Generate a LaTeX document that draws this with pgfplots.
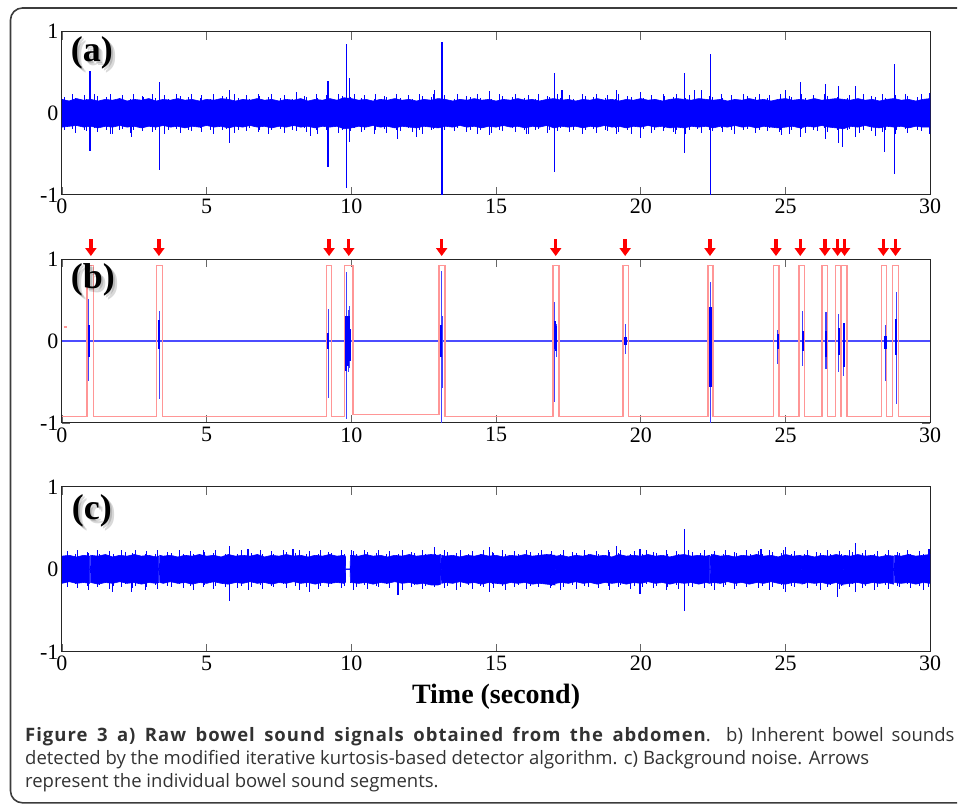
\documentclass[border=0pt]{standalone}
\usepackage{fontspec}
\setmainfont{Liberation Serif}
\newfontfamily\capfont[BoldFeatures={LetterSpace=5.5}]{Open Sans}
\usepackage{pgfplots}
\usepackage{pgfplotstable}
\pgfplotsset{compat=1.18}
\usepgfplotslibrary{fillbetween}
\usetikzlibrary{arrows.meta}

\definecolor{sigblue}{RGB}{0,0,255}
\definecolor{pulsered}{RGB}{255,150,150}
\definecolor{framegray}{RGB}{60,60,60}
\definecolor{captext}{RGB}{50,50,50}

% (a) raw signal: envelope of the noise band, read every 0.25 s
\pgfplotstableread{
t up lo
0 0.17 -0.17
0.25 0.15 -0.16
0.5 0.18 -0.15
0.75 0.16 -0.17
1 0.17 -0.16
1.25 0.15 -0.18
1.5 0.17 -0.16
1.75 0.16 -0.17
2 0.18 -0.15
2.25 0.15 -0.17
2.5 0.17 -0.16
2.75 0.16 -0.18
3 0.18 -0.16
3.25 0.15 -0.17
3.5 0.17 -0.15
3.75 0.16 -0.17
4 0.18 -0.16
4.25 0.16 -0.18
4.5 0.17 -0.16
4.75 0.15 -0.17
5 0.17 -0.15
5.25 0.16 -0.17
5.5 0.18 -0.16
5.75 0.17 -0.18
6 0.15 -0.16
6.25 0.17 -0.17
6.5 0.16 -0.15
6.75 0.18 -0.17
7 0.16 -0.16
7.25 0.17 -0.18
7.5 0.15 -0.16
7.75 0.17 -0.17
8 0.16 -0.15
8.25 0.18 -0.17
8.5 0.15 -0.16
8.75 0.17 -0.18
9 0.16 -0.16
9.25 0.18 -0.17
9.5 0.16 -0.16
9.75 0.19 -0.19
10 0.18 -0.18
10.25 0.16 -0.16
10.5 0.17 -0.17
10.75 0.15 -0.15
11 0.17 -0.17
11.25 0.16 -0.16
11.5 0.18 -0.18
11.75 0.16 -0.16
12 0.17 -0.17
12.25 0.15 -0.18
12.5 0.17 -0.16
12.75 0.16 -0.17
13 0.18 -0.18
13.25 0.17 -0.16
13.5 0.15 -0.17
13.75 0.17 -0.15
14 0.16 -0.17
14.25 0.18 -0.16
14.5 0.16 -0.18
14.75 0.17 -0.16
15 0.15 -0.17
15.25 0.17 -0.15
15.5 0.16 -0.17
15.75 0.18 -0.16
16 0.16 -0.18
16.25 0.17 -0.16
16.5 0.15 -0.17
16.75 0.17 -0.15
17 0.18 -0.18
17.25 0.16 -0.16
17.5 0.17 -0.17
17.75 0.15 -0.16
18 0.17 -0.18
18.25 0.16 -0.16
18.5 0.18 -0.17
18.75 0.16 -0.15
19 0.17 -0.17
19.25 0.15 -0.16
19.5 0.17 -0.18
19.75 0.16 -0.16
20 0.18 -0.17
20.25 0.16 -0.15
20.5 0.17 -0.17
20.75 0.15 -0.16
21 0.17 -0.18
21.25 0.18 -0.17
21.5 0.17 -0.18
21.75 0.16 -0.16
22 0.18 -0.17
22.25 0.17 -0.16
22.5 0.16 -0.18
22.75 0.17 -0.16
23 0.15 -0.17
23.25 0.17 -0.15
23.5 0.16 -0.17
23.75 0.18 -0.16
24 0.16 -0.18
24.25 0.17 -0.16
24.5 0.15 -0.17
24.75 0.17 -0.18
25 0.18 -0.17
25.25 0.16 -0.16
25.5 0.17 -0.18
25.75 0.16 -0.16
26 0.18 -0.17
26.25 0.16 -0.15
26.5 0.17 -0.17
26.75 0.18 -0.18
27 0.17 -0.19
27.25 0.16 -0.16
27.5 0.18 -0.17
27.75 0.16 -0.15
28 0.17 -0.17
28.25 0.15 -0.18
28.5 0.17 -0.16
28.75 0.18 -0.17
29 0.16 -0.16
29.25 0.17 -0.18
29.5 0.15 -0.16
29.75 0.17 -0.17
30 0.18 -0.17
}\bandA

% (a) spikes standing out of the band
\pgfplotstableread{
t y
0.97 0.52
0.97 -0.46
3.36 0.38
3.36 -0.69
5.8 0.29
5.8 -0.37
2.4 -0.29
1.75 -0.25
8.1 0.26
8.58 -0.28
9.19 0.40
9.19 -0.66
9.83 0.85
9.83 -0.92
9.94 0.43
9.94 -0.35
11.6 -0.31
12.25 -0.29
12.88 0.29
13.13 0.87
13.13 -1.0
14.77 0.27
14.77 -0.27
16.04 -0.25
17.02 0.49
17.02 -0.72
17.28 0.29
19.15 0.29
19.15 -0.25
19.99 0.26
19.99 -0.30
21.2 -0.25
21.5 0.49
21.5 -0.49
21.85 0.29
22.1 0.28
22.4 0.73
22.4 -1.0
25.01 0.28
24.85 -0.27
25.53 0.38
25.53 -0.29
26.37 0.36
26.37 -0.31
26.82 0.34
26.82 -0.36
26.97 -0.41
27.43 0.33
27.43 -0.29
28.12 -0.28
28.43 -0.47
28.77 0.60
28.77 -0.75
29.99 0.25
29.99 -0.25
}\spikeA

% fine ragged edge of the noise bands: t ua la for (a), tc uc lc for (c)
\pgfplotstableread{
t ua la tc uc lc
0.10 0.20 -0.21 0.19 0.22 -0.22
0.36 0.23 -0.19 0.45 0.18 -0.18
0.46 0.19 -0.24 0.55 0.24 -0.23
0.78 0.22 -0.20 0.87 0.21 -0.20
0.83 0.18 -0.22 0.92 0.20 -0.25
1.13 0.24 -0.18 1.22 0.23 -0.21
1.22 0.21 -0.23 1.31 0.19 -0.19
1.55 0.20 -0.20 1.64 0.22 -0.24
1.68 0.23 -0.25 1.77 0.18 -0.20
1.97 0.19 -0.21 2.06 0.24 -0.22
2.10 0.22 -0.19 2.19 0.21 -0.18
2.36 0.18 -0.24 2.45 0.20 -0.23
2.46 0.24 -0.20 2.55 0.23 -0.20
2.78 0.21 -0.22 2.87 0.19 -0.25
2.83 0.20 -0.18 2.92 0.22 -0.21
3.13 0.23 -0.23 3.22 0.18 -0.19
3.22 0.19 -0.20 3.31 0.24 -0.24
3.55 0.22 -0.25 3.64 0.21 -0.20
3.68 0.18 -0.21 3.77 0.20 -0.22
3.97 0.24 -0.19 4.06 0.23 -0.18
4.10 0.21 -0.24 4.19 0.19 -0.23
4.36 0.20 -0.20 4.45 0.22 -0.20
4.46 0.23 -0.22 4.55 0.18 -0.25
4.78 0.19 -0.18 4.87 0.24 -0.21
4.83 0.22 -0.23 4.92 0.21 -0.19
5.13 0.18 -0.20 5.22 0.20 -0.24
5.22 0.24 -0.25 5.31 0.23 -0.20
5.55 0.21 -0.21 5.64 0.19 -0.22
5.68 0.20 -0.19 5.77 0.22 -0.18
5.97 0.23 -0.24 6.06 0.18 -0.23
6.10 0.19 -0.20 6.19 0.24 -0.20
6.36 0.22 -0.22 6.45 0.21 -0.25
6.46 0.18 -0.18 6.55 0.20 -0.21
6.78 0.24 -0.23 6.87 0.23 -0.19
6.83 0.21 -0.20 6.92 0.19 -0.24
7.13 0.20 -0.25 7.22 0.22 -0.20
7.22 0.23 -0.21 7.31 0.18 -0.22
7.55 0.19 -0.19 7.64 0.24 -0.18
7.68 0.22 -0.24 7.77 0.21 -0.23
7.97 0.18 -0.20 8.06 0.20 -0.20
8.10 0.24 -0.22 8.19 0.23 -0.25
8.36 0.21 -0.18 8.45 0.19 -0.21
8.46 0.20 -0.23 8.55 0.22 -0.19
8.78 0.23 -0.20 8.87 0.18 -0.24
8.83 0.19 -0.25 8.92 0.24 -0.20
9.13 0.22 -0.21 9.22 0.21 -0.22
9.22 0.18 -0.19 9.31 0.20 -0.18
9.55 0.24 -0.24 9.64 0.23 -0.23
9.68 0.21 -0.20 9.77 0.19 -0.20
9.97 0.20 -0.22 10.06 0.22 -0.25
10.10 0.23 -0.18 10.19 0.18 -0.21
10.36 0.19 -0.23 10.45 0.24 -0.19
10.46 0.22 -0.20 10.55 0.21 -0.24
10.78 0.18 -0.25 10.87 0.20 -0.20
10.83 0.24 -0.21 10.92 0.23 -0.22
11.13 0.21 -0.19 11.22 0.19 -0.18
11.22 0.20 -0.24 11.31 0.22 -0.23
11.55 0.23 -0.20 11.64 0.18 -0.20
11.68 0.19 -0.22 11.77 0.24 -0.25
11.97 0.22 -0.18 12.06 0.21 -0.21
12.10 0.18 -0.23 12.19 0.20 -0.19
12.36 0.24 -0.20 12.45 0.23 -0.24
12.46 0.21 -0.25 12.55 0.19 -0.20
12.78 0.20 -0.21 12.87 0.22 -0.22
12.83 0.23 -0.19 12.92 0.18 -0.18
13.13 0.19 -0.24 13.22 0.24 -0.23
13.22 0.22 -0.20 13.31 0.21 -0.20
13.55 0.18 -0.22 13.64 0.20 -0.25
13.68 0.24 -0.18 13.77 0.23 -0.21
13.97 0.21 -0.23 14.06 0.19 -0.19
14.10 0.20 -0.20 14.19 0.22 -0.24
14.36 0.23 -0.25 14.45 0.18 -0.20
14.46 0.19 -0.21 14.55 0.24 -0.22
14.78 0.22 -0.19 14.87 0.21 -0.18
14.83 0.18 -0.24 14.92 0.20 -0.23
15.13 0.24 -0.20 15.22 0.23 -0.20
15.22 0.21 -0.22 15.31 0.19 -0.25
15.55 0.20 -0.18 15.64 0.22 -0.21
15.68 0.23 -0.23 15.77 0.18 -0.19
15.97 0.19 -0.20 16.06 0.24 -0.24
16.10 0.22 -0.25 16.19 0.21 -0.20
16.36 0.18 -0.21 16.45 0.20 -0.22
16.46 0.24 -0.19 16.55 0.23 -0.18
16.78 0.21 -0.24 16.87 0.19 -0.23
16.83 0.20 -0.20 16.92 0.22 -0.20
17.13 0.23 -0.22 17.22 0.18 -0.25
17.22 0.19 -0.18 17.31 0.24 -0.21
17.55 0.22 -0.23 17.64 0.21 -0.19
17.68 0.18 -0.20 17.77 0.20 -0.24
17.97 0.24 -0.25 18.06 0.23 -0.20
18.10 0.21 -0.21 18.19 0.19 -0.22
18.36 0.20 -0.19 18.45 0.22 -0.18
18.46 0.23 -0.24 18.55 0.18 -0.23
18.78 0.19 -0.20 18.87 0.24 -0.20
18.83 0.22 -0.22 18.92 0.21 -0.25
19.13 0.18 -0.18 19.22 0.20 -0.21
19.22 0.24 -0.23 19.31 0.23 -0.19
19.55 0.21 -0.20 19.64 0.19 -0.24
19.68 0.20 -0.25 19.77 0.22 -0.20
19.97 0.23 -0.21 20.06 0.18 -0.22
20.10 0.19 -0.19 20.19 0.24 -0.18
20.36 0.22 -0.24 20.45 0.21 -0.23
20.46 0.18 -0.20 20.55 0.20 -0.20
20.78 0.24 -0.22 20.87 0.23 -0.25
20.83 0.21 -0.18 20.92 0.19 -0.21
21.13 0.20 -0.23 21.22 0.22 -0.19
21.22 0.23 -0.20 21.31 0.18 -0.24
21.55 0.19 -0.25 21.64 0.24 -0.20
21.68 0.22 -0.21 21.77 0.21 -0.22
21.97 0.18 -0.19 22.06 0.20 -0.18
22.10 0.24 -0.24 22.19 0.23 -0.23
22.36 0.21 -0.20 22.45 0.19 -0.20
22.46 0.20 -0.22 22.55 0.22 -0.25
22.78 0.23 -0.18 22.87 0.18 -0.21
22.83 0.19 -0.23 22.92 0.24 -0.19
23.13 0.22 -0.20 23.22 0.21 -0.24
23.22 0.18 -0.25 23.31 0.20 -0.20
23.55 0.24 -0.21 23.64 0.23 -0.22
23.68 0.21 -0.19 23.77 0.19 -0.18
23.97 0.20 -0.24 24.06 0.22 -0.23
24.10 0.23 -0.20 24.19 0.18 -0.20
24.36 0.19 -0.22 24.45 0.24 -0.25
24.46 0.22 -0.18 24.55 0.21 -0.21
24.78 0.18 -0.23 24.87 0.20 -0.19
24.83 0.24 -0.20 24.92 0.23 -0.24
25.13 0.21 -0.25 25.22 0.19 -0.20
25.22 0.20 -0.21 25.31 0.22 -0.22
25.55 0.23 -0.19 25.64 0.18 -0.18
25.68 0.19 -0.24 25.77 0.24 -0.23
25.97 0.22 -0.20 26.06 0.21 -0.20
26.10 0.18 -0.22 26.19 0.20 -0.25
26.36 0.24 -0.18 26.45 0.23 -0.21
26.46 0.21 -0.23 26.55 0.19 -0.19
26.78 0.20 -0.20 26.87 0.22 -0.24
26.83 0.23 -0.25 26.92 0.18 -0.20
27.13 0.19 -0.21 27.22 0.24 -0.22
27.22 0.22 -0.19 27.31 0.21 -0.18
27.55 0.18 -0.24 27.64 0.20 -0.23
27.68 0.24 -0.20 27.77 0.23 -0.20
27.97 0.21 -0.22 28.06 0.19 -0.25
28.10 0.20 -0.18 28.19 0.22 -0.21
28.36 0.23 -0.23 28.45 0.18 -0.19
28.46 0.19 -0.20 28.55 0.24 -0.24
28.78 0.22 -0.25 28.87 0.21 -0.20
28.83 0.18 -0.21 28.92 0.20 -0.22
29.13 0.24 -0.19 29.22 0.23 -0.18
29.22 0.21 -0.24 29.31 0.19 -0.23
29.55 0.20 -0.20 29.64 0.22 -0.20
29.68 0.23 -0.22 29.77 0.18 -0.25
29.97 0.19 -0.18 29.93 0.24 -0.21
}\fuzz

% (b) detected segments: outer excursions and dense cores
\pgfplotstableread{
t y
0.93 0.51
0.93 -0.49
3.36 0.37
3.36 -0.71
9.2 0.39
9.2 -0.69
9.83 0.84
9.83 -0.95
9.89 0.38
9.89 -0.38
9.93 0.43
9.93 -0.33
13.1 0.86
13.1 -1.0
13.13 0.30
13.13 -0.57
17.03 0.47
17.03 -0.74
17.09 0.21
17.09 -0.20
19.47 0.21
19.47 -0.16
22.4 0.72
22.4 -1.0
24.73 0.14
24.73 -0.28
25.6 0.37
25.6 -0.31
26.4 0.35
26.4 -0.34
26.84 0.33
26.84 -0.38
27.0 0.21
27.0 -0.43
28.45 0.20
28.45 -0.49
28.82 0.60
28.82 -0.77
}\spikeB

\pgfplotstableread{
t y
0.93 0.20
0.93 -0.20
3.36 0.26
3.36 -0.10
9.2 0.10
9.2 -0.10
9.82 0.30
9.82 -0.37
9.86 0.25
9.86 -0.30
9.90 0.30
9.90 -0.20
9.94 0.15
9.94 -0.25
13.1 0.20
13.1 -0.20
17.04 0.25
17.04 -0.10
17.07 0.18
17.07 -0.12
19.47 0.05
19.47 -0.05
22.41 0.42
22.41 -0.56
24.73 0.08
24.73 -0.10
25.6 0.12
25.6 -0.12
26.4 0.12
26.4 -0.20
26.85 0.16
26.85 -0.17
27.02 0.22
27.02 -0.32
28.45 0.06
28.45 -0.10
28.82 0.27
28.82 -0.17
}\coreB

% (c) background noise with the segments removed
\pgfplotstableread{
t up lo
0 0.16 -0.17
0.25 0.17 -0.15
0.5 0.15 -0.17
0.75 0.17 -0.16
0.955 0.16 -0.17
0.96 0.004 -0.004
0.99 0.004 -0.004
0.995 0.17 -0.16
1.25 0.16 -0.18
1.5 0.18 -0.16
1.75 0.15 -0.17
2 0.17 -0.15
2.25 0.16 -0.17
2.5 0.18 -0.16
2.75 0.16 -0.18
3 0.17 -0.16
3.25 0.15 -0.17
3.34 0.16 -0.16
3.345 0.004 -0.004
3.375 0.004 -0.004
3.38 0.17 -0.16
3.5 0.16 -0.17
3.75 0.17 -0.15
4 0.15 -0.17
4.25 0.17 -0.16
4.5 0.16 -0.18
4.75 0.18 -0.16
5 0.16 -0.17
5.25 0.17 -0.15
5.5 0.15 -0.17
5.75 0.18 -0.18
6 0.16 -0.16
6.25 0.17 -0.17
6.5 0.16 -0.15
6.75 0.18 -0.17
7 0.15 -0.16
7.25 0.17 -0.18
7.5 0.16 -0.16
7.75 0.18 -0.17
8 0.16 -0.15
8.25 0.17 -0.17
8.5 0.15 -0.16
8.75 0.17 -0.18
9 0.16 -0.16
9.25 0.18 -0.17
9.5 0.16 -0.16
9.75 0.17 -0.17
9.795 0.16 -0.16
9.8 0.004 -0.004
9.96 0.004 -0.004
9.965 0.17 -0.16
10.25 0.16 -0.17
10.5 0.18 -0.16
10.75 0.16 -0.18
11 0.17 -0.16
11.25 0.15 -0.17
11.5 0.17 -0.15
11.75 0.16 -0.17
12 0.18 -0.16
12.25 0.16 -0.18
12.5 0.17 -0.17
12.75 0.18 -0.19
13 0.17 -0.19
13.085 0.18 -0.18
13.09 0.004 -0.004
13.115 0.004 -0.004
13.12 0.17 -0.17
13.25 0.16 -0.16
13.5 0.17 -0.17
13.75 0.15 -0.15
14 0.17 -0.17
14.25 0.16 -0.16
14.5 0.18 -0.18
14.75 0.16 -0.16
15 0.17 -0.17
15.25 0.15 -0.18
15.5 0.17 -0.16
15.75 0.16 -0.17
16 0.18 -0.16
16.25 0.16 -0.18
16.5 0.17 -0.17
16.75 0.18 -0.18
17.035 0.17 -0.19
17.04 0.004 -0.004
17.065 0.004 -0.004
17.07 0.16 -0.17
17.25 0.17 -0.16
17.5 0.15 -0.17
17.75 0.17 -0.15
18 0.16 -0.17
18.25 0.18 -0.16
18.5 0.16 -0.18
18.75 0.17 -0.16
19 0.15 -0.17
19.25 0.18 -0.16
19.5 0.16 -0.18
19.75 0.17 -0.16
20 0.16 -0.17
20.25 0.18 -0.15
20.5 0.16 -0.17
20.75 0.17 -0.16
21 0.15 -0.18
21.25 0.17 -0.16
21.5 0.18 -0.17
21.75 0.16 -0.16
22 0.17 -0.18
22.25 0.16 -0.16
22.375 0.17 -0.17
22.38 0.004 -0.004
22.405 0.004 -0.004
22.41 0.16 -0.17
22.5 0.18 -0.16
22.75 0.16 -0.17
23 0.17 -0.15
23.25 0.15 -0.17
23.5 0.17 -0.16
23.75 0.16 -0.18
24 0.18 -0.16
24.25 0.16 -0.17
24.5 0.17 -0.15
24.75 0.15 -0.17
25 0.18 -0.18
25.25 0.16 -0.16
25.535 0.17 -0.17
25.54 0.004 -0.004
25.565 0.004 -0.004
25.57 0.16 -0.18
25.75 0.17 -0.16
26 0.15 -0.17
26.25 0.17 -0.16
26.5 0.16 -0.18
26.75 0.18 -0.16
26.985 0.16 -0.19
26.99 0.004 -0.004
27.015 0.004 -0.004
27.02 0.17 -0.18
27.25 0.16 -0.17
27.5 0.18 -0.16
27.75 0.16 -0.18
28 0.17 -0.16
28.25 0.15 -0.17
28.5 0.17 -0.16
28.735 0.16 -0.18
28.74 0.004 -0.004
28.765 0.004 -0.004
28.77 0.17 -0.16
29 0.16 -0.17
29.25 0.18 -0.16
29.5 0.16 -0.18
29.75 0.17 -0.16
30 0.18 -0.17
}\bandC

\pgfplotstableread{
t y
1.75 -0.27
2.4 -0.28
5.8 0.28
5.8 -0.38
6.43 0.25
7.98 0.25
8.56 -0.28
10.0 0.24
11.61 -0.31
12.88 0.27
14.77 0.27
14.77 -0.27
19.15 0.28
19.97 0.25
19.97 -0.30
21.5 0.49
21.5 -0.50
23.23 -0.24
24.15 0.25
25.0 0.27
25.0 -0.28
26.8 -0.34
27.41 0.32
27.41 -0.28
29.96 0.25
}\spikeC

\pgfplotsset{
  panel/.style={
    scale only axis, width=869pt, anchor=south west,
    xmin=0, xmax=30, ymin=-1, ymax=1,
    xtick={0,5,10,15,20,25,30}, xticklabels={0,5,10,15,20,25,30},
    ytick={-1,0,1}, yticklabels={-1,0,1},
    tick align=inside, major tick length=8pt,
    tick style={black!60, line width=0.8pt},
    axis line style={black!85, line width=0.9pt},
    ticklabel style={font=\fontsize{22}{22}\selectfont},
    xticklabel style={yshift=-1pt},
  },
  spike/.style={ycomb, sigblue, line width=1.2pt},
  fine/.style={ycomb, sigblue, line width=0.8pt},
  edge/.style={sigblue, line width=0.6pt},
}

\newcommand{\panellabel}[3]{%
  \foreach \d in {2,4}
    \node[text=black, opacity=0.15, font=\fontsize{36}{36}\bfseries]
      at (#1+\d, #2-\d) {#3};
  \node[font=\fontsize{36}{36}\bfseries] at (#1,#2) {#3};
}

\begin{document}
\begin{tikzpicture}[x=1pt, y=1pt]
\path (0,0) rectangle (958,805);

% rounded frame round the figure and caption (right side lies outside the page)
\draw[framegray, line width=1.6pt]
  (958,797) -- (22.5,797) arc[start angle=90, end angle=180, radius=12]
  -- (10.5,13.5) arc[start angle=180, end angle=270, radius=12] -- (958,1.5);

% (a)
\begin{axis}[panel, height=163.3pt, at={(62pt,610pt)}]
\addplot[name path=au, edge] table[x=t, y=up] {\bandA};
\addplot[name path=al, edge] table[x=t, y=lo] {\bandA};
\addplot[sigblue] fill between[of=au and al];
\addplot[fine] table[x=t, y=ua] {\fuzz};
\addplot[fine] table[x=t, y=la] {\fuzz};
\addplot[spike] table[x=t, y=y] {\spikeA};
\end{axis}

% (b)
\begin{axis}[panel, height=164pt, at={(62pt,381.7pt)}, clip=false]
\addplot[sigblue!70, line width=1.6pt] coordinates {(0,0) (30,0)};
\addplot[pulsered, line width=1.4pt] coordinates {
  (0,-0.92) (0.87,-0.92) (0.87,0.92) (1.08,0.92) (1.08,-0.92)
  (3.27,-0.92) (3.27,0.92) (3.47,0.92) (3.47,-0.92)
  (9.14,-0.92) (9.14,0.92) (9.32,0.92) (9.32,-0.92)
  (9.77,-0.92) (9.77,0.92) (10.05,0.92) (10.05,-0.90)
  (13.03,-0.90) (13.03,0.92) (13.23,0.92) (13.23,-0.92)
  (16.96,-0.92) (16.96,0.92) (17.17,0.92) (17.17,-0.92)
  (19.38,-0.92) (19.38,0.92) (19.58,0.92) (19.58,-0.92)
  (22.32,-0.92) (22.32,0.92) (22.50,0.92) (22.50,-0.92)
  (24.58,-0.92) (24.58,0.92) (24.78,0.92) (24.78,-0.92)
  (25.47,-0.92) (25.47,0.92) (25.66,0.92) (25.66,-0.92)
  (26.26,-0.92) (26.26,0.92) (26.46,0.92) (26.46,-0.92)
  (26.73,-0.92) (26.73,0.92) (26.91,0.92) (26.91,-0.92)
  (26.94,-0.92) (26.94,0.92) (27.13,0.92) (27.13,-0.92)
  (28.31,-0.92) (28.31,0.92) (28.49,0.92) (28.49,-0.92)
  (28.70,-0.92) (28.70,0.92) (28.91,0.92) (28.91,-0.92)
  (30,-0.92)
};
\addplot[pulsered, line width=1.2pt] coordinates {(0.07,0.17) (0.18,0.17)};
\addplot[spike, sigblue!75, line width=1.1pt] table[x=t, y=y] {\spikeB};
\addplot[spike, line width=2.4pt] table[x=t, y=y] {\coreB};
\addplot[red, line width=3.4pt, -{Triangle[width=11pt, length=8pt]},
  quiver={u=0, v=-0.207}] coordinates {
  (1.0,1.244) (3.35,1.244) (9.23,1.244) (9.91,1.244) (13.12,1.244)
  (17.06,1.244) (19.46,1.244) (22.39,1.244) (24.67,1.244) (25.51,1.244)
  (26.36,1.244) (26.80,1.244) (27.04,1.244) (28.38,1.244) (28.80,1.244)
};
\end{axis}

% (c)
\begin{axis}[panel, height=165pt, at={(62pt,152.7pt)},
  xlabel={Time (second)},
  xlabel style={font=\fontsize{28}{28}\bfseries, yshift=-6pt}]
\addplot[name path=cu, edge] table[x=t, y=up] {\bandC};
\addplot[name path=cl, edge] table[x=t, y=lo] {\bandC};
\addplot[sigblue] fill between[of=cu and cl];
\addplot[fine] table[x=tc, y=uc] {\fuzz};
\addplot[fine] table[x=tc, y=lc] {\fuzz};
\addplot[spike] table[x=t, y=y] {\spikeC};
\end{axis}

\panellabel{92}{752}{(a)}
\panellabel{93}{525}{(b)}
\panellabel{92}{294}{(c)}

% caption
\begin{scope}[every node/.style={anchor=base west, inner sep=0pt, text=captext,
    font=\capfont\fontsize{18.5}{18.5}\selectfont}]
\node at (25,63) {\makebox[930pt][s]{\textbf{Figure 3 a) Raw bowel sound signals obtained from the abdomen}. b) Inherent bowel sounds}};
\node at (25,40) {detected by the modified iterative kurtosis-based detector algorithm. c) Background noise. Arrows};
\node at (25,17) {represent the individual bowel sound segments.};
\end{scope}
\end{tikzpicture}
\end{document}
